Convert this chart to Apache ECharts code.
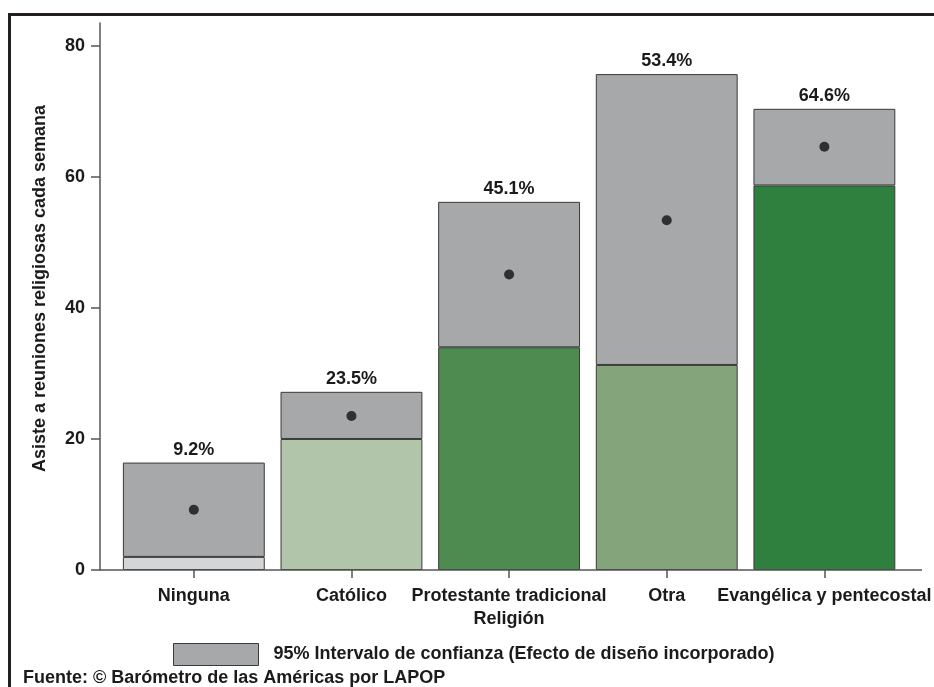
<!DOCTYPE html>
<html>
<head>
<meta charset="utf-8">
<script src="https://cdn.jsdelivr.net/npm/echarts@6/dist/echarts.min.js"></script>
<style>
html,body{margin:0;padding:0;background:#fff;}
#chart{width:934px;height:687px;}
</style>
</head>
<body>
<div id="chart"></div>
<script>
// ---- data ----
var categories = ['Ninguna', 'Católico', 'Protestante tradicional', 'Otra', 'Evangélica y pentecostal'];
var means = [9.2, 23.5, 45.1, 53.4, 64.6];
var ciLower = [2.0, 20.0, 34.0, 31.3, 58.7];
var ciUpper = [16.4, 27.2, 56.2, 75.7, 70.4];
var yTickValues = [0, 20, 40, 60, 80];
var yAxisTitle = 'Asiste a reuniones religiosas cada semana';
var xAxisTitle = 'Religión';
var legendLabel = '95% Intervalo de confianza (Efecto de diseño incorporado)';
var sourceText = 'Fuente: © Barómetro de las Américas por LAPOP';

// ---- styles ----
var FONT = '"Liberation Sans", Arial, sans-serif';
var TEXT = '#1c1a1b';
var lowerColors = ['#d4d5d7', '#b0c5a9', '#4e8b51', '#84a47b', '#2f7f3f'];
var ciGray = '#a7a8aa';
var edge = '#3a3a3a';

var rangeData = ciUpper.map(function (u, i) { return +(u - ciLower[i]).toFixed(2); });

var chart = echarts.init(document.getElementById('chart'), null, {renderer: 'canvas'});
chart.setOption({
  animation: false,
  backgroundColor: '#fff',
  textStyle: {fontFamily: FONT},
  grid: {left: 115, right: 26.5, top: 23, bottom: 117, containLabel: false},
  xAxis: {
    type: 'category',
    data: categories,
    name: xAxisTitle,
    nameLocation: 'middle',
    nameGap: 40,
    nameTextStyle: {fontFamily: FONT, fontSize: 18, fontWeight: 'bold', color: TEXT},
    axisLine: {show: false},
    axisTick: {show: true, alignWithLabel: true, length: 8, lineStyle: {color: '#555', width: 1.5}},
    axisLabel: {fontFamily: FONT, fontSize: 18, fontWeight: 'bold', color: TEXT, margin: 17, interval: 0}
  },
  yAxis: {
    type: 'value',
    min: 0,
    max: 83.5,
    offset: 15,
    name: yAxisTitle,
    nameLocation: 'middle',
    nameGap: 51,
    nameRotate: 90,
    nameTextStyle: {fontFamily: FONT, fontSize: 18, fontWeight: 'bold', color: TEXT, padding: [0, 0, 0, 16]},
    splitLine: {show: false},
    axisLine: {show: true, lineStyle: {color: '#555', width: 1.5}},
    axisTick: {show: true, length: 9, lineStyle: {color: '#555', width: 1.5}, customValues: yTickValues},
    axisLabel: {fontFamily: FONT, fontSize: 18, fontWeight: 'bold', color: TEXT, margin: 15, customValues: yTickValues}
  },
  legend: {
    left: 173,
    top: 643,
    padding: 0,
    selectedMode: false,
    itemWidth: 85,
    itemHeight: 22,
    textStyle: {fontFamily: FONT, fontSize: 18, fontWeight: 'bold', color: TEXT, padding: [0, 0, 0, 10]},
    data: [{name: legendLabel, icon: 'rect', itemStyle: {color: ciGray, borderColor: edge, borderWidth: 1}}]
  },
  graphic: [
    {type: 'rect', shape: {x: 9.5, y: 14.5, width: 1000, height: 1000}, style: {fill: 'none', stroke: '#231f20', lineWidth: 3}, z: 100},
    {type: 'line', shape: {x1: 100, y1: 570, x2: 922, y2: 570}, style: {stroke: '#555', lineWidth: 1.5}, z: 50},
    {type: 'text', left: 23, top: 669, style: {text: sourceText, font: 'bold 18px ' + FONT, fill: TEXT}}
  ],
  series: [
    {
      name: 'lower',
      type: 'bar',
      stack: 'ci',
      barWidth: '90%',
      data: ciLower.map(function (v, i) {
        return {value: v, itemStyle: {color: lowerColors[i]}};
      }),
      itemStyle: {borderColor: edge, borderWidth: 1}
    },
    {
      name: legendLabel,
      type: 'bar',
      stack: 'ci',
      barWidth: '90%',
      data: rangeData,
      itemStyle: {color: ciGray, borderColor: edge, borderWidth: 1},
      label: {
        show: true,
        position: 'top',
        distance: 4,
        fontFamily: FONT,
        fontSize: 18,
        fontWeight: 'bold',
        color: TEXT,
        formatter: function (p) { return means[p.dataIndex].toFixed(1) + '%'; }
      }
    },
    {
      name: 'mean',
      type: 'scatter',
      data: means,
      symbol: 'circle',
      symbolSize: 10,
      itemStyle: {color: '#111'},
      z: 10
    }
  ]
});
</script>
</body>
</html>
